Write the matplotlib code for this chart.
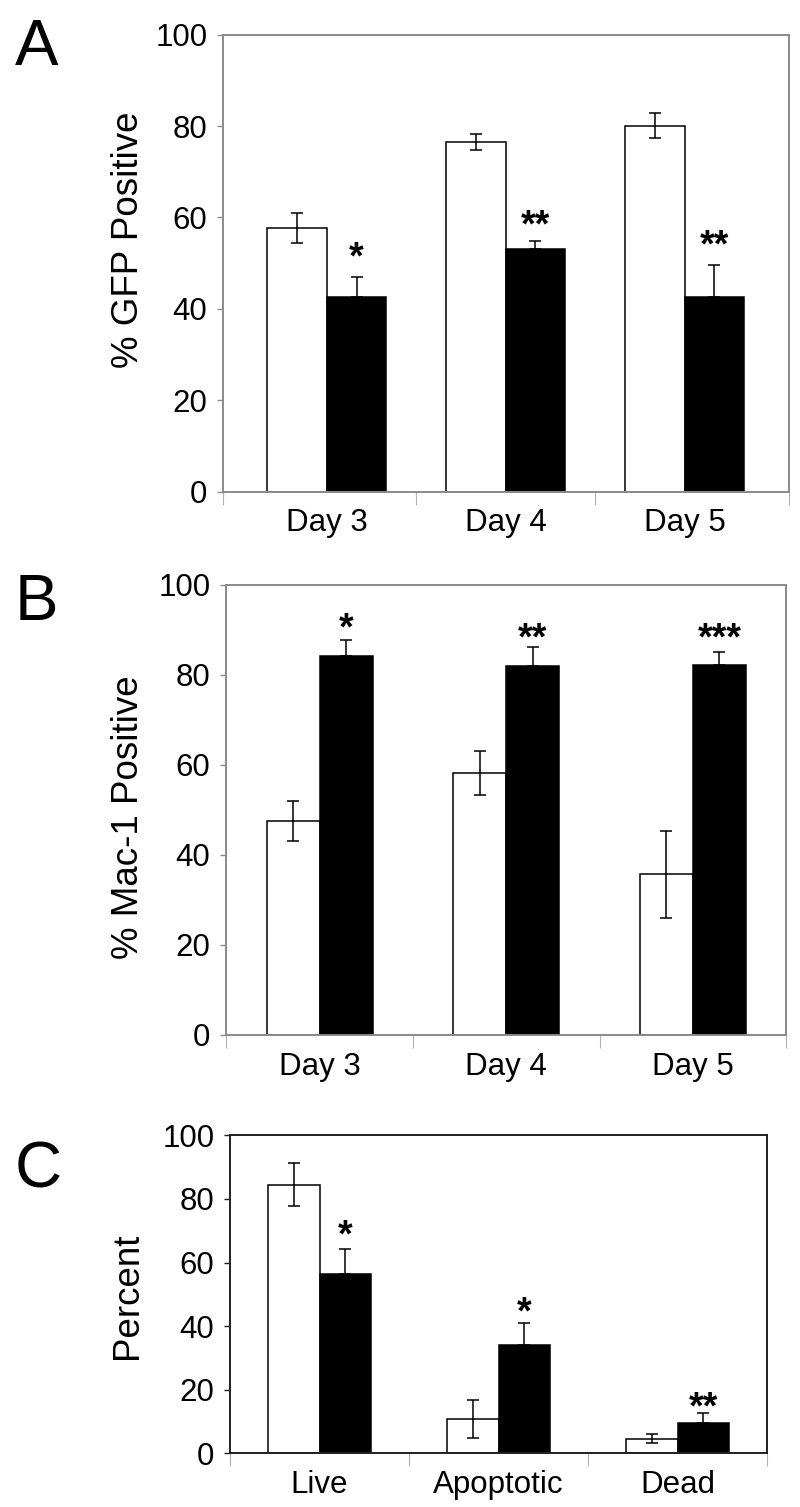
import matplotlib
matplotlib.use("Agg")
import matplotlib.pyplot as plt

plt.rcParams['font.family'] = ['Liberation Sans', 'DejaVu Sans']

W, H = 800, 1507

# panel A: % GFP positive
a_labels = ["Day 3", "Day 4", "Day 5"]
a_white = [57.7, 76.5, 80.1]
a_white_err = [3.2, 1.8, 2.7]
a_black = [42.5, 53.2, 42.5]
a_black_err = [4.4, 1.7, 7.1]
a_stars = ["*", "**", "**"]
a_star_y = [52.6, 59.5, 55.1]

# panel B: % Mac-1 positive
b_labels = ["Day 3", "Day 4", "Day 5"]
b_white = [47.6, 58.3, 35.7]
b_white_err = [4.4, 4.9, 9.7]
b_black = [84.3, 81.9, 82.2]
b_black_err = [3.4, 4.3, 3.0]
b_stars = ["*", "**", "***"]
b_star_y = [91.5, 89.3, 89.3]

# panel C: live / apoptotic / dead
c_labels = ["Live", "Apoptotic", "Dead"]
c_white = [84.5, 10.7, 4.6]
c_white_err = [6.7, 6.0, 1.4]
c_black = [56.3, 34.2, 9.4]
c_black_err = [8.1, 6.8, 3.4]
c_stars = ["*", "*", "**"]
c_star_y = [70.3, 46.2, 16.3]

yticks = [0, 20, 40, 60, 80, 100]


def px_axes(fig, left, top, right, bottom):
    """Add axes from pixel edges (origin top left)."""
    return fig.add_axes([left / W, 1 - bottom / H, (right - left) / W,
                         (bottom - top) / H])


def draw_panel(ax, labels, white, white_err, black, black_err, stars,
               star_y, xlim, width, frame):
    x = list(range(len(labels)))
    xw = [i - width / 2 for i in x]
    xb = [i + width / 2 for i in x]
    ax.bar(xw, white, width, color="white", edgecolor="black",
           linewidth=1.1, zorder=2)
    ax.bar(xb, black, width, color="black", edgecolor="black",
           linewidth=1.1, zorder=2)
    ax.errorbar(xw, white, yerr=white_err, fmt="none", ecolor="black",
                elinewidth=1.1, capsize=4.3, capthick=1.1, zorder=3)
    ax.errorbar(xb, black, yerr=[[0] * len(black), black_err], fmt="none",
                ecolor="black", elinewidth=1.1, capsize=4.3, capthick=1.1,
                zorder=3)
    for i, s in enumerate(stars):
        ax.annotate(s, (xb[i], star_y[i]), xytext=(0, -12),
                    textcoords="offset points", ha="center", va="baseline",
                    fontsize=27, fontweight="bold")

    ax.set_xlim(*xlim)
    ax.set_ylim(0, 100)
    ax.set_yticks(yticks)
    ax.tick_params(axis="y", direction="out", length=4.3, width=1.0,
                   color=frame, labelsize=22.5, pad=7)
    # category separators as major ticks, labels on minor ticks
    ax.set_xticks([xlim[0], 0.5, 1.5, xlim[1]])
    ax.set_xticklabels([])
    ax.set_xticks(x, minor=True)
    ax.set_xticklabels(labels, minor=True)
    ax.tick_params(axis="x", which="major", direction="out", length=9.4,
                   width=0.8, color="#b0b0b0")
    ax.tick_params(axis="x", which="minor", length=0, labelsize=22.5,
                   pad=12)
    for sp in ax.spines.values():
        sp.set_color(frame)
        sp.set_linewidth(1.4)


fig = plt.figure(figsize=(W / 100, H / 100), dpi=100)

ax_a = px_axes(fig, 223, 34.7, 789, 491.7)
draw_panel(ax_a, a_labels, a_white, a_white_err, a_black, a_black_err,
           a_stars, a_star_y, (-0.58, 2.584), 0.333, "#8a8a8a")

ax_b = px_axes(fig, 226, 585, 786, 1035)
draw_panel(ax_b, b_labels, b_white, b_white_err, b_black, b_black_err,
           b_stars, b_star_y, (-0.503, 2.499), 0.284, "#8a8a8a")

ax_c = px_axes(fig, 230, 1135.3, 767, 1453.3)
draw_panel(ax_c, c_labels, c_white, c_white_err, c_black, c_black_err,
           c_stars, c_star_y, (-0.5, 2.5), 0.288, "#202020")

# y axis titles
fig.text(129 / W, 1 - 240 / H, "% GFP Positive", rotation=90,
         ha="center", va="center", fontsize=26.5)
fig.text(128 / W, 1 - 817 / H, "% Mac-1 Positive", rotation=90,
         ha="center", va="center", fontsize=26.5)
fig.text(127 / W, 1 - 1296 / H, "Percent", rotation=90,
         ha="center", va="center", fontsize=26.5)

# panel letters
fig.text(15 / W, 1 - 65 / H, "A", ha="left", va="baseline", fontsize=47)
fig.text(15 / W, 1 - 620 / H, "B", ha="left", va="baseline", fontsize=47)
fig.text(15 / W, 1 - 1188 / H, "C", ha="left", va="baseline", fontsize=47)

fig.savefig("out.png", dpi=100)
